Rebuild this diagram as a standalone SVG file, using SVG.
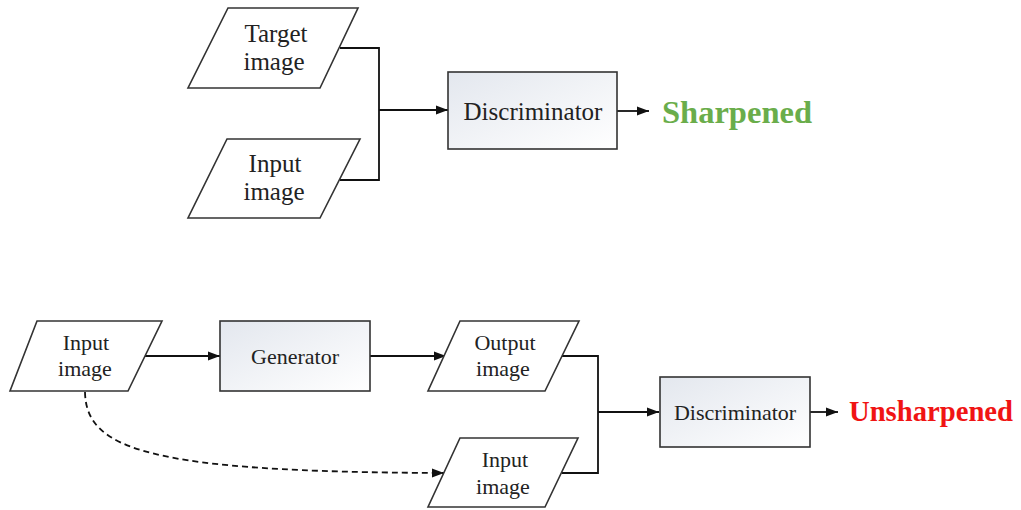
<svg xmlns="http://www.w3.org/2000/svg" width="1021" height="510" viewBox="0 0 1021 510">
<defs>
<linearGradient id="g" x1="0" y1="0" x2="1" y2="1">
<stop offset="0" stop-color="#e3e7ee"/>
<stop offset="1" stop-color="#ffffff"/>
</linearGradient>
<marker id="ah" viewBox="0 0 12 10" refX="12" refY="5" markerWidth="12" markerHeight="10" markerUnits="userSpaceOnUse" orient="auto">
<path d="M0,0.5 L12,5 L0,9.5 Z" fill="#111"/>
</marker>
<style>
.shape{fill:#fff;stroke:#333;stroke-width:1.6}
.box{fill:url(#g);stroke:#333;stroke-width:1.6}
.t{font-family:"Liberation Serif","Times New Roman",serif;fill:#222;text-anchor:middle}
.big{font-size:25px}
.sm{font-size:22px}
.conn{fill:none;stroke:#111;stroke-width:1.8}
.dash{stroke-dasharray:6 4}
.res{font-family:"Liberation Serif","Times New Roman",serif;font-weight:bold}
</style>
</defs>
<rect width="1021" height="510" fill="#fff"/>
<g id="connectors">
<path class="conn" d="M340,48 H379 V180 H340"/>
<path class="conn" d="M379,110 H448" marker-end="url(#ah)"/>
<path class="conn" d="M617,111 H649" marker-end="url(#ah)"/>
<path class="conn" d="M145,356 H220" marker-end="url(#ah)"/>
<path class="conn" d="M370,356 H446" marker-end="url(#ah)"/>
<path class="conn dash" d="M85,392 C86,450 150,472 444,473" marker-end="url(#ah)"/>
<path class="conn" d="M562,356 H598 V473 H562"/>
<path class="conn" d="M598,412 H659" marker-end="url(#ah)"/>
<path class="conn" d="M810,412 H838" marker-end="url(#ah)"/>
</g>
<g id="target-image">
<polygon class="shape" points="228,8 358,8 320,88 188,88"/>
<text class="t big" x="276" y="42">Target</text>
<text class="t big" x="274" y="70">image</text>
</g>
<g id="input-image-top">
<polygon class="shape" points="227,139 360,139 320,218 188,218"/>
<text class="t big" x="275" y="172">Input</text>
<text class="t big" x="274" y="200">image</text>
</g>
<g id="discriminator-top">
<rect class="box" x="448" y="72" width="169" height="77"/>
<text class="t big" x="533" y="120">Discriminator</text>
</g>
<g id="sharpened">
<text class="res" x="662" y="123" font-size="32" fill="#6aad4b" textLength="150" lengthAdjust="spacingAndGlyphs">Sharpened</text>
</g>
<g id="input-image-bottom-left">
<polygon class="shape" points="37,321 162,321 128,391 10,391"/>
<text class="t sm" x="86" y="350">Input</text>
<text class="t sm" x="85" y="376">image</text>
</g>
<g id="generator">
<rect class="box" x="220" y="321" width="150" height="70"/>
<text class="t sm" x="295" y="364">Generator</text>
</g>
<g id="output-image">
<polygon class="shape" points="460,321 579,321 545,391 428,391"/>
<text class="t sm" x="505" y="350">Output</text>
<text class="t sm" x="503" y="376">image</text>
</g>
<g id="input-image-bottom">
<polygon class="shape" points="460,438 578,438 545,507 428,507"/>
<text class="t sm" x="505" y="467">Input</text>
<text class="t sm" x="503" y="494">image</text>
</g>
<g id="discriminator-bottom">
<rect class="box" x="660" y="377" width="150" height="70"/>
<text class="t sm" x="735" y="420">Discriminator</text>
</g>
<g id="unsharpened">
<text class="res" x="849" y="421" font-size="29" fill="#f01414" textLength="164" lengthAdjust="spacingAndGlyphs">Unsharpened</text>
</g>
</svg>
